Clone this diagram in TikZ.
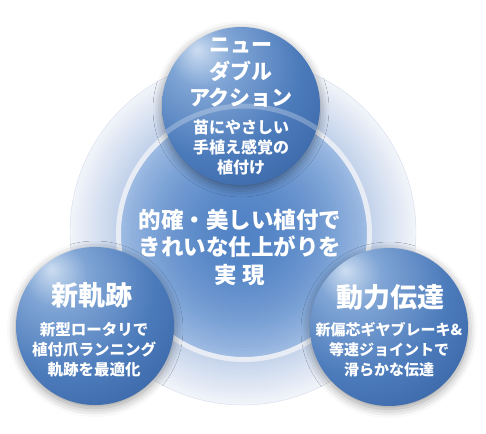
\documentclass[tikz,border=0pt]{standalone}
\usepackage{fontspec}
\newfontfamily\jp{Noto Sans CJK JP}
\usetikzlibrary{shadows.blur}
\definecolor{sphHi}{HTML}{CCDDF1}
\definecolor{sphLight}{HTML}{80A5D5}
\definecolor{sphMid}{HTML}{4C7BBB}
\definecolor{sphDark}{HTML}{2D5799}
\definecolor{sphEdge}{HTML}{1D3D7A}
\definecolor{coreIn}{HTML}{5283C5}
\definecolor{coreOut}{HTML}{A0BDE4}
\definecolor{haloIn}{HTML}{C4D3EB}
\definecolor{haloOut}{HTML}{F2F5FA}
\definecolor{haloLine}{HTML}{D3DCEB}
\definecolor{ringC}{HTML}{E8EDF5}
\pgfdeclareradialshading{sphere}{\pgfpoint{-14bp}{18bp}}{color(0bp)=(sphHi); color(10bp)=(sphLight); color(28bp)=(sphMid); color(52bp)=(sphDark); color(72bp)=(sphEdge); color(90bp)=(sphEdge)}
\begin{document}
\begin{tikzpicture}[x=1pt,y=-1pt,
  sphere/.style={circle,minimum size=158pt,inner sep=0pt,shading=sphere,
    blur shadow={shadow xshift=0pt,shadow yshift=-3pt,shadow blur radius=9pt,shadow opacity=40}},
  head/.style={text=white,align=center,font=\jp\bfseries\fontsize{27}{30}\selectfont},
  body/.style={text=white,align=center,font=\jp\bfseries\fontsize{15.5}{20}\selectfont}]
\useasboundingbox (0,0) rectangle (486,433);
% background discs
\foreach \i [evaluate=\i as \p using \i*100/45] in {0,...,45}
  \fill[haloIn!\p!haloOut] (243,232) circle [radius=173pt-\i pt];
\node[circle,minimum size=346pt,inner sep=0pt,draw=haloLine,line width=.4pt] (halo) at (243,232) {};
\foreach \i [evaluate=\i as \p using 100*(1-(1-\i/42)^2)] in {0,...,42}
  \fill[coreIn!\p!coreOut] (244,234) circle [radius=126pt-\i*3pt];
\node[circle,minimum size=251pt,inner sep=0pt,draw=ringC,line width=5pt] (core) at (244,234) {};
\node[text=white,align=center,font=\jp\bfseries\fontsize{22.5}{27.5}\selectfont] (goal) at (240,247) {的確・美しい植付で\\きれいな仕上がりを\\実 現};
% three spheres
\node[sphere] (nda) at (241,106) {};
\node[sphere] (kiseki) at (95,326) {};
\node[sphere] (dendo) at (389,327) {};
\begin{scope}
\clip (nda.center) circle [radius=79pt];
\draw[ringC,line width=5pt,opacity=.3] (core.center) circle [radius=128pt];
\end{scope}
\node[head,font=\jp\bfseries\fontsize{21}{26.5}\selectfont] (ndaHead) at (241,73) {ニュー\\ダブル\\アクション};
\node[body,font=\jp\bfseries\fontsize{16}{20}\selectfont] (ndaBody) at (241,147) {苗にやさしい\\手植え感覚の\\植付け};
\node[head] (kisekiHead) at (92,295) {新軌跡};
\node[body] (kisekiBody) at (94,350) {新型ロータリで\\植付爪ランニング\\軌跡を最適化};
\node[head] (dendoHead) at (390,297) {動力伝達};
\node[body,font=\jp\bfseries\fontsize{15}{20}\selectfont] (dendoBody) at (389,350) {新偏芯ギヤブレーキ\&\\等速ジョイントで\\滑らかな伝達};
\end{tikzpicture}
\end{document}
